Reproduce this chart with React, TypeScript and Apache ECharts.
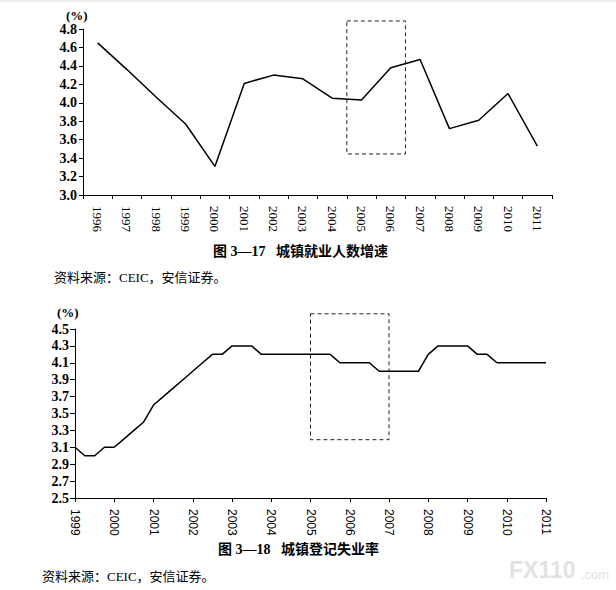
import React, { useEffect, useRef } from "react";
import * as echarts from "echarts";

// 图 3-17 城镇就业人数增速 (annual, %)
const employmentYears = [
    "1996", "1997", "1998", "1999", "2000", "2001", "2002", "2003",
    "2004", "2005", "2006", "2007", "2008", "2009", "2010", "2011",
];
const employmentGrowth = [
    4.65, 4.36, 4.06, 3.77, 3.31, 4.21, 4.30, 4.26,
    4.05, 4.03, 4.38, 4.47, 3.72, 3.81, 4.10, 3.53,
];

// 图 3-18 城镇登记失业率 (quarterly, %)
const unemploymentDates = [
    1999, 1999.25, 1999.5, 1999.75, 2000, 2000.25, 2000.5, 2000.75,
    2001, 2001.25, 2001.5, 2001.75, 2002, 2002.25, 2002.5, 2002.75,
    2003, 2003.25, 2003.5, 2003.75, 2004, 2004.25, 2004.5, 2004.75,
    2005, 2005.25, 2005.5, 2005.75, 2006, 2006.25, 2006.5, 2006.75,
    2007, 2007.25, 2007.5, 2007.75, 2008, 2008.25, 2008.5, 2008.75,
    2009, 2009.25, 2009.5, 2009.75, 2010, 2010.25, 2010.5, 2010.75,
    2011,
];
const unemploymentRate = [
    3.1, 3.0, 3.0, 3.1, 3.1, 3.2, 3.3, 3.4,
    3.6, 3.7, 3.8, 3.9, 4.0, 4.1, 4.2, 4.2,
    4.3, 4.3, 4.3, 4.2, 4.2, 4.2, 4.2, 4.2,
    4.2, 4.2, 4.2, 4.1, 4.1, 4.1, 4.1, 4.0,
    4.0, 4.0, 4.0, 4.0, 4.2, 4.3, 4.3, 4.3,
    4.3, 4.2, 4.2, 4.1, 4.1, 4.1, 4.1, 4.1,
    4.1,
];

// y-axis of the second chart starts at 2.5 with 0.2 steps, so it is plotted as offset from the base
const unemploymentBase = 2.5;

// highlighted boxes: [from, to] in axis units
const box1Slots = [9, 11]; // category boundaries around 2005-2006
const box1Values = [3.445, 4.887];
const box2Years = [2005, 2007];
const box2Values = [3.19, 4.68];

const titles = ["图 3—17   城镇就业人数增速", "图 3—18   城镇登记失业率"];
const sourceNote = "资料来源：CEIC，安信证券。";

const serif = "'Liberation Serif', 'Times New Roman', serif";
const cjk = "'Liberation Serif', 'Noto Sans CJK SC', sans-serif";
const sans = "'Liberation Sans', Arial, sans-serif";

export default function App() {
    const chartRef = useRef<HTMLDivElement>(null);

    useEffect(() => {
        if (chartRef.current === null) return;
        const chart = echarts.init(chartRef.current, undefined, { renderer: "svg" });

        const axisLine = { show: true, lineStyle: { color: "#000", width: 1 } };
        const yLabel = {
            color: "#000",
            fontFamily: serif,
            fontWeight: "bold" as const,
            fontSize: 14,
            margin: 6,
        };

        const option: echarts.EChartsOption = {
            animation: false,
            backgroundColor: "#fff",
            grid: [
                { left: 83, top: 29, width: 469, height: 166 },
                { left: 75, top: 329, width: 471, height: 169 },
            ],
            xAxis: [
                {
                    type: "category",
                    gridIndex: 0,
                    data: employmentYears,
                    boundaryGap: true,
                    axisLine,
                    axisTick: { show: true, length: 4, lineStyle: { color: "#000" } },
                    axisLabel: {
                        rotate: -90,
                        color: "#000",
                        fontFamily: serif,
                        fontSize: 13,
                        margin: 11,
                        interval: 0,
                    },
                    splitLine: { show: false },
                },
                {
                    // hidden helper axis for placing the dashed box on category boundaries
                    type: "value",
                    gridIndex: 0,
                    min: 0,
                    max: 16,
                    show: false,
                },
                {
                    type: "value",
                    gridIndex: 1,
                    min: 1999,
                    max: 2011,
                    interval: 1,
                    axisLine,
                    axisTick: { show: true, length: 4, lineStyle: { color: "#000" } },
                    axisLabel: {
                        rotate: -90,
                        color: "#000",
                        fontFamily: sans,
                        fontSize: 12,
                        margin: 11,
                        formatter: (v: number) => String(v),
                    },
                    splitLine: { show: false },
                },
            ],
            yAxis: [
                {
                    type: "value",
                    gridIndex: 0,
                    min: 3.0,
                    max: 4.8,
                    interval: 0.2,
                    axisLine,
                    axisTick: { show: true, length: 4, lineStyle: { color: "#000" } },
                    axisLabel: { ...yLabel, formatter: (v: number) => v.toFixed(1) },
                    splitLine: { show: false },
                },
                {
                    type: "value",
                    gridIndex: 1,
                    min: 0,
                    max: 2.0,
                    interval: 0.2,
                    axisLine,
                    axisTick: { show: true, length: 5, lineStyle: { color: "#000" } },
                    axisLabel: {
                        ...yLabel,
                        formatter: (v: number) => (v + unemploymentBase).toFixed(1),
                    },
                    splitLine: { show: false },
                },
            ],
            series: [
                {
                    type: "line",
                    xAxisIndex: 0,
                    yAxisIndex: 0,
                    data: employmentGrowth,
                    symbol: "none",
                    lineStyle: { color: "#000", width: 1.5 },
                },
                {
                    type: "line",
                    xAxisIndex: 2,
                    yAxisIndex: 1,
                    data: unemploymentDates.map((d, i) => [d, unemploymentRate[i] - unemploymentBase]),
                    symbol: "none",
                    lineStyle: { color: "#000", width: 1.5 },
                },
            ],
        };

        chart.setOption(option);

        // dashed boxes, placed through the axes
        const p1a = chart.convertToPixel({ xAxisIndex: 1, yAxisIndex: 0 }, [box1Slots[0], box1Values[0]]) as number[];
        const p1b = chart.convertToPixel({ xAxisIndex: 1, yAxisIndex: 0 }, [box1Slots[1], box1Values[1]]) as number[];
        const p2a = chart.convertToPixel({ xAxisIndex: 2, yAxisIndex: 1 }, [box2Years[0], box2Values[0] - unemploymentBase]) as number[];
        const p2b = chart.convertToPixel({ xAxisIndex: 2, yAxisIndex: 1 }, [box2Years[1], box2Values[1] - unemploymentBase]) as number[];

        const dashed = (a: number[], b: number[]) => ({
            type: "rect" as const,
            shape: {
                x: Math.min(a[0], b[0]),
                y: Math.min(a[1], b[1]),
                width: Math.abs(b[0] - a[0]),
                height: Math.abs(b[1] - a[1]),
            },
            style: { fill: "none", stroke: "#222", lineWidth: 1, lineDash: [4, 3] },
            z: 10,
        });

        const text = (t: string, x: number, y: number, size: number, weight: string, fill = "#000", family = cjk) => ({
            type: "text" as const,
            x,
            y,
            style: {
                text: t,
                fill,
                fontSize: size,
                fontWeight: weight,
                fontFamily: family,
                align: "left",
                verticalAlign: "middle",
            },
            z: 10,
        });

        chart.setOption({
            graphic: [
                { type: "rect", shape: { x: 0, y: 0, width: 616, height: 2 }, style: { fill: "#ececec" } },
                dashed(p1a, p1b),
                dashed(p2a, p2b),
                text("(%)", 66, 15, 13, "bold", "#000", serif),
                text("(%)", 57, 312, 13, "bold", "#000", serif),
                text(titles[0], 213, 251, 14, "bold"),
                text(titles[1], 218, 549, 14, "bold"),
                text(sourceNote, 54, 277, 13, "normal"),
                text(sourceNote, 42, 576, 13, "normal"),
                text("FX110", 509, 570, 23, "bold", "#e2e2e2", sans),
                text(".com", 581, 574, 13, "normal", "#e2e2e2", sans),
            ],
        });

        return () => {
            chart.dispose();
        };
    }, []);

    return (
        <div
            ref={chartRef}
            style={{ position: "absolute", left: 0, top: 0, width: "616px", height: "590px" }}
        />
    );
}
